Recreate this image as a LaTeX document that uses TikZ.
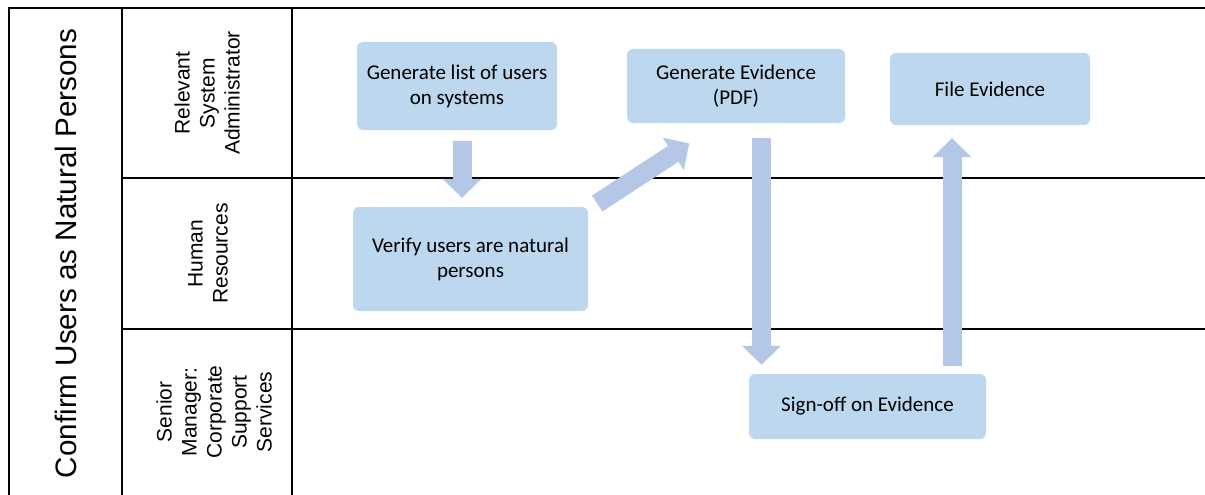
\documentclass[tikz,border=0pt]{standalone}
\usepackage{fontspec}
\setmainfont{Liberation Sans}
\newfontfamily\boxfont{Carlito}
\usetikzlibrary{arrows.meta,calc}
\definecolor{boxblue}{HTML}{BDD7EE}
\definecolor{arrowblue}{HTML}{B4C7E7}
\begin{document}
\begin{tikzpicture}[x=1pt,y=-1pt,
  laneline/.style={line width=2pt, black},
  stepbox/.style={fill=boxblue, rounded corners=6pt, font=\boxfont\fontsize{21}{25}\selectfont, align=center, inner sep=0pt},
  lanelabel/.style={rotate=90, align=center, font=\fontsize{21}{25}\selectfont},
  flow/.style={arrowblue, line width=19pt, -{Triangle[width=39pt,length=19pt,line width=0pt]}}
]
\useasboundingbox (0,0) rectangle (1205,495);
\fill[white] (0,0) rectangle (1205,495);
% frame
\draw[laneline] (9,495) -- (9,8) -- (1205,8);
\draw[laneline] (122,8) -- (122,495);
\draw[laneline] (292,8) -- (292,495);
\draw[laneline] (122,178) -- (1205,178);
\draw[laneline] (122,329) -- (1205,329);
% labels
\node[rotate=90, font=\fontsize{29.6}{35}\selectfont] (title) at (65.5,253.5) {Confirm Users as Natural Persons};
\node[lanelabel] (l1) at (207,93) {Relevant\\System\\Administrator};
\node[lanelabel] (l2) at (208,253.5) {Human\\Resources};
\node[lanelabel] (l3) at (214,412) {Senior\\Manager:\\Corporate\\Support\\Services};
% boxes
\node[stepbox, minimum width=200pt, minimum height=88pt] (gen) at (457,86) {Generate list of users\\on systems};
\node[stepbox, minimum width=218pt, minimum height=74pt] (evid) at (736,86) {Generate Evidence\\(PDF)};
\node[stepbox, minimum width=200pt, minimum height=72pt] (file) at (990,89) {File Evidence};
\node[stepbox, minimum width=235pt, minimum height=104pt] (verify) at (470.5,259) {Verify users are natural\\persons};
\node[stepbox, minimum width=237pt, minimum height=65pt] (sign) at (867.5,406.5) {Sign-off on Evidence};
% flows
\draw[flow] ($(gen.south)+(5,11)$) -- ($(verify.north)+(-8.5,-9)$);
\draw[flow] ($(verify.north east)+(9,-3.3)$) -- ($(evid.south west)+(62.3,20.3)$);
\draw[flow] ($(evid.south)+(25.5,15)$) -- ($(sign.north)+(-106,-9)$);
\draw[flow] ($(sign.north)+(84.5,-8)$) -- ($(file.south)+(-38,13)$);
\end{tikzpicture}
\end{document}
